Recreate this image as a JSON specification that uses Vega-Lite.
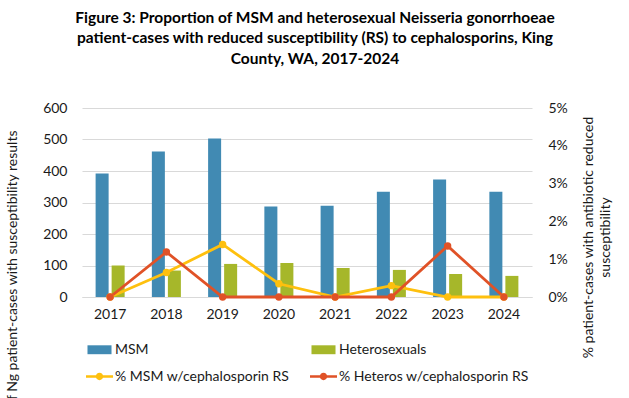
{
  "$schema": "https://vega.github.io/schema/vega-lite/v6.json",
  "width": 450,
  "height": 189,
  "autosize": {"type": "none"},
  "padding": {"left": 82, "top": 108, "right": 97, "bottom": 101},
  "background": "white",
  "config": {
    "view": {"stroke": null},
    "font": "Lato",
    "axis": {"labelFont": "Lato", "titleFont": "Lato", "labelColor": "#1a1a1a", "titleColor": "#1a1a1a"}
  },
  "title": {
    "text": [
      "Figure 3: Proportion of MSM and heterosexual Neisseria gonorrhoeae",
      "patient-cases with reduced susceptibility (RS) to cephalosporins, King",
      "County, WA, 2017-2024"
    ],
    "font": "Lato",
    "fontSize": 15.5,
    "fontWeight": "bold",
    "lineHeight": 20.5,
    "color": "#000000",
    "anchor": "middle",
    "dx": 8,
    "offset": 34
  },
  "datasets": {
    "bars": [
      {"year": "2017", "series": "MSM", "count": 392},
      {"year": "2017", "series": "Heterosexuals", "count": 100},
      {"year": "2018", "series": "MSM", "count": 462},
      {"year": "2018", "series": "Heterosexuals", "count": 84},
      {"year": "2019", "series": "MSM", "count": 503},
      {"year": "2019", "series": "Heterosexuals", "count": 105},
      {"year": "2020", "series": "MSM", "count": 287},
      {"year": "2020", "series": "Heterosexuals", "count": 108},
      {"year": "2021", "series": "MSM", "count": 290},
      {"year": "2021", "series": "Heterosexuals", "count": 92},
      {"year": "2022", "series": "MSM", "count": 334},
      {"year": "2022", "series": "Heterosexuals", "count": 86},
      {"year": "2023", "series": "MSM", "count": 373},
      {"year": "2023", "series": "Heterosexuals", "count": 73},
      {"year": "2024", "series": "MSM", "count": 334},
      {"year": "2024", "series": "Heterosexuals", "count": 67}
    ],
    "lines": [
      {"year": "2017", "series": "% MSM w/cephalosporin RS", "pct": 0},
      {"year": "2018", "series": "% MSM w/cephalosporin RS", "pct": 0.0065},
      {"year": "2019", "series": "% MSM w/cephalosporin RS", "pct": 0.0139},
      {"year": "2020", "series": "% MSM w/cephalosporin RS", "pct": 0.0035},
      {"year": "2021", "series": "% MSM w/cephalosporin RS", "pct": 0},
      {"year": "2022", "series": "% MSM w/cephalosporin RS", "pct": 0.003},
      {"year": "2023", "series": "% MSM w/cephalosporin RS", "pct": 0},
      {"year": "2024", "series": "% MSM w/cephalosporin RS", "pct": 0},
      {"year": "2017", "series": "% Heteros w/cephalosporin RS", "pct": 0},
      {"year": "2018", "series": "% Heteros w/cephalosporin RS", "pct": 0.0119},
      {"year": "2019", "series": "% Heteros w/cephalosporin RS", "pct": 0},
      {"year": "2020", "series": "% Heteros w/cephalosporin RS", "pct": 0},
      {"year": "2021", "series": "% Heteros w/cephalosporin RS", "pct": 0},
      {"year": "2022", "series": "% Heteros w/cephalosporin RS", "pct": 0},
      {"year": "2023", "series": "% Heteros w/cephalosporin RS", "pct": 0.0135},
      {"year": "2024", "series": "% Heteros w/cephalosporin RS", "pct": 0}
    ]
  },
  "layer": [
    {
      "data": {"name": "bars"},
      "mark": {"type": "bar"},
      "encoding": {
        "x": {
          "field": "year",
          "type": "ordinal",
          "scale": {"paddingInner": 0.484, "paddingOuter": 0.242},
          "axis": {
            "title": null,
            "labelAngle": 0,
            "labelFontSize": 14,
            "labelPadding": 10,
            "ticks": false,
            "domainColor": "#d9d9d9",
            "domainWidth": 1
          }
        },
        "xOffset": {
          "field": "series",
          "type": "nominal",
          "scale": {"domain": ["MSM", "Heterosexuals"], "paddingInner": 0.1875, "paddingOuter": 0}
        },
        "y": {
          "field": "count",
          "type": "quantitative",
          "scale": {"domain": [0, 600], "nice": false},
          "axis": {
            "values": [0, 100, 200, 300, 400, 500, 600],
            "title": "# of Ng patient-cases with susceptibility results",
            "titleFontSize": 14,
            "titleFontWeight": "normal",
            "titleAngle": 270,
            "titleAlign": "right",
            "titleBaseline": "middle",
            "titleX": -70,
            "titleY": 22,
            "labelFontSize": 14,
            "labelPadding": 15,
            "ticks": false,
            "domain": false,
            "grid": true,
            "gridColor": "#d9d9d9",
            "gridWidth": 1
          }
        },
        "color": {
          "field": "series",
          "type": "nominal",
          "scale": {
            "domain": ["MSM", "Heterosexuals", "% MSM w/cephalosporin RS", "% Heteros w/cephalosporin RS"],
            "range": ["#418ab3", "#a6b72a", "#fec00e", "#e05227"]
          },
          "legend": {
            "title": null,
            "orient": "none",
            "legendX": 4,
            "legendY": 228,
            "direction": "horizontal",
            "columns": 2,
            "gridAlign": "all",
            "columnPadding": 5,
            "rowPadding": 6,
            "padding": 0,
            "labelFont": "Lato",
            "labelFontSize": 14,
            "labelColor": "#1a1a1a",
            "labelOffset": 2,
            "symbolSize": 729,
            "labelLimit": 400,
            "encode": {
              "symbols": {
                "update": {
                  "shape": {"signal": "(datum.value == 'MSM' || datum.value == 'Heterosexuals') ? 'M-0.89,-0.33H0.89V0.33H-0.89Z' : 'M-1,-0.1H1V0.1H-1Z M0.27,0A0.27,0.27 0 1,1 -0.27,0A0.27,0.27 0 1,1 0.27,0Z'"},
                  "fill": {"signal": "scale('color', datum.value)"},
                  "stroke": {"value": "transparent"},
                  "strokeWidth": {"value": 0},
                  "opacity": {"value": 1},
                  "size": {"value": 729}
                }
              }
            }
          }
        }
      }
    },
    {
      "data": {"name": "lines"},
      "mark": {"type": "line", "strokeWidth": 2.8, "point": {"filled": true, "size": 55, "opacity": 1}},
      "encoding": {
        "x": {"field": "year", "type": "ordinal"},
        "y": {
          "field": "pct",
          "type": "quantitative",
          "scale": {"domain": [0, 0.05], "nice": false},
          "axis": {
            "orient": "right",
            "values": [0, 0.01, 0.02, 0.03, 0.04, 0.05],
            "format": ".0%",
            "title": ["% patient-cases with antibiotic reduced", "susceptibility"],
            "titleFontSize": 14,
            "titleFontWeight": "normal",
            "titleAngle": 270,
            "titleAlign": "center",
            "titleBaseline": "middle",
            "titleLineHeight": 17,
            "titleX": 56,
            "titleY": 129,
            "labelFontSize": 14,
            "labelPadding": 16,
            "ticks": false,
            "domain": false,
            "grid": false
          }
        },
        "color": {
          "field": "series",
          "type": "nominal",
          "scale": {
            "domain": ["MSM", "Heterosexuals", "% MSM w/cephalosporin RS", "% Heteros w/cephalosporin RS"],
            "range": ["#418ab3", "#a6b72a", "#fec00e", "#e05227"]
          }
        }
      }
    }
  ],
  "resolve": {"scale": {"y": "independent"}}
}
